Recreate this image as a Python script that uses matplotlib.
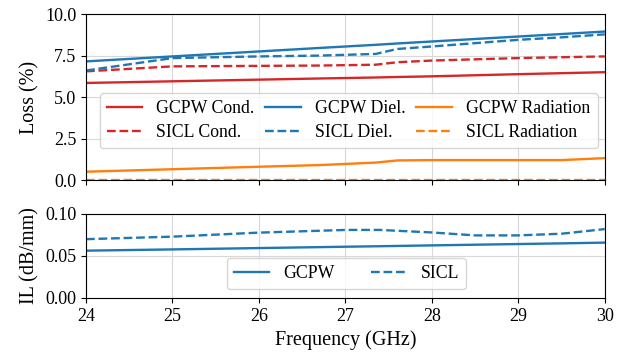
import numpy as np
import matplotlib
matplotlib.use("Agg")
import matplotlib.pyplot as plt

plt.rcParams['font.family'] = ['Liberation Serif', 'DejaVu Serif']
plt.rcParams['font.size'] = 13
plt.rcParams['mathtext.fontset'] = 'stix'

# ---------------------------------------------------------
# Data
# ---------------------------------------------------------
freq = [24, 25, 26, 26.7, 27.35, 27.6, 28, 29, 29.5, 30]

gcpw_cond = [5.85, 5.95, 6.05, 6.12, 6.18, 6.21, 6.25, 6.38, 6.44, 6.5]
sicl_cond = [6.55, 6.85, 6.88, 6.9, 6.95, 7.1, 7.2, 7.35, 7.4, 7.45]
gcpw_diel = [7.15, 7.45, 7.75, 7.96, 8.15, 8.23, 8.35, 8.65, 8.8, 8.95]
sicl_diel = [6.6, 7.35, 7.45, 7.5, 7.6, 7.9, 8.05, 8.45, 8.6, 8.78]
gcpw_rad = [0.5, 0.65, 0.8, 0.9, 1.05, 1.18, 1.2, 1.2, 1.2, 1.32]
sicl_rad = [0.01, 0.01, 0.01, 0.01, 0.01, 0.01, 0.01, 0.01, 0.01, 0.01]

il_freq = [24, 25, 26, 27, 27.4, 28, 28.5, 29, 29.5, 30]
il_gcpw = [0.0563, 0.0578, 0.0594, 0.0610, 0.0616, 0.0626, 0.0634, 0.0642, 0.065, 0.0659]
il_sicl = [0.070, 0.073, 0.0778, 0.081, 0.081, 0.078, 0.0745, 0.0745, 0.0765, 0.082]

# ---------------------------------------------------------
# Plot
# ---------------------------------------------------------
fig, (ax1, ax2) = plt.subplots(2, 1, sharex=True, figsize=(6.28, 3.53), dpi=100,
                               gridspec_kw={'height_ratios': [166, 84]})
fig.subplots_adjust(left=0.137, right=0.963, top=0.960, bottom=0.156, hspace=0.272)

lw = 1.7
ax1.plot(freq, gcpw_cond, color='tab:red', lw=lw, label='GCPW Cond.')
ax1.plot(freq, sicl_cond, color='tab:red', lw=lw, ls='--', label='SICL Cond.')
ax1.plot(freq, gcpw_diel, color='tab:blue', lw=lw, label='GCPW Diel.')
ax1.plot(freq, sicl_diel, color='tab:blue', lw=lw, ls='--', label='SICL Diel.')
ax1.plot(freq, gcpw_rad, color='tab:orange', lw=lw, label='GCPW Radiation')
ax1.plot(freq, sicl_rad, color='tab:orange', lw=lw, ls='--', label='SICL Radiation')

ax1.set_xlim(24, 30)
ax1.set_ylim(0, 10)
ax1.set_yticks([0, 2.5, 5, 7.5, 10])
ax1.set_yticklabels(['0.0', '2.5', '5.0', '7.5', '10.0'])
ax1.set_ylabel('Loss (%)', fontsize=14.5)
ax1.grid(True, color='#d8d8d8', lw=0.8)
ax1.legend(ncol=3, loc='center', bbox_to_anchor=(0.506, 0.358), fontsize=12.8,
           handlelength=2.0, columnspacing=0.6, borderpad=0.4, labelspacing=0.4)

ax2.plot(il_freq, il_gcpw, color='tab:blue', lw=lw, label='GCPW')
ax2.plot(il_freq, il_sicl, color='tab:blue', lw=lw, ls='--', label='SICL')
ax2.set_ylim(0, 0.1)
ax2.set_yticks([0, 0.05, 0.1])
ax2.set_yticklabels(['0.00', '0.05', '0.10'])
ax2.set_ylabel('IL (dB/mm)', fontsize=14.5)
ax2.set_xlabel('Frequency (GHz)', fontsize=14.5)
ax2.grid(True, color='#d8d8d8', lw=0.8)
ax2.legend(ncol=2, loc='center', bbox_to_anchor=(0.502, 0.29), fontsize=12.8,
           handlelength=2.0, columnspacing=2.0, borderpad=0.4)

fig.savefig('out.png', dpi=100)
